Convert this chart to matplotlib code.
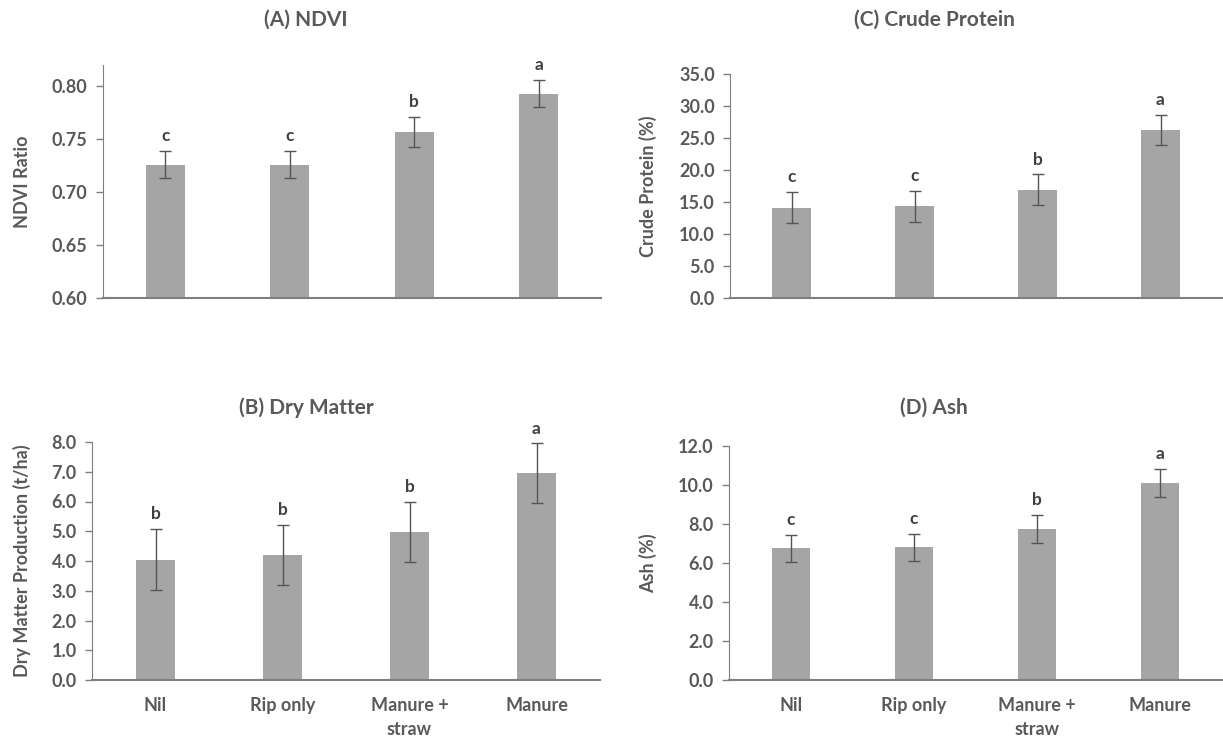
import matplotlib
matplotlib.use("Agg")
import matplotlib.pyplot as plt

categories = ["Nil", "Rip only", "Manure +\nstraw", "Manure"]

ndvi = [0.726, 0.726, 0.757, 0.793]
ndvi_err = [0.013, 0.013, 0.014, 0.013]
ndvi_letters = ["c", "c", "b", "a"]

protein = [14.1, 14.3, 16.9, 26.3]
protein_err = [2.4, 2.4, 2.4, 2.35]
protein_letters = ["c", "c", "b", "a"]

dry_matter = [4.05, 4.2, 4.97, 6.95]
dry_matter_err = [1.02, 1.0, 1.02, 1.0]
dry_matter_letters = ["b", "b", "b", "a"]

ash = [6.75, 6.8, 7.75, 10.1]
ash_err = [0.7, 0.7, 0.7, 0.72]
ash_letters = ["c", "c", "b", "a"]

W, H = 1223, 738
plt.rcParams['font.family'] = ['Lato', 'DejaVu Sans']
plt.rcParams['font.weight'] = 'bold'
TXT = '#595959'
BAR = '#a5a5a5'

fig = plt.figure(figsize=(W / 100, H / 100), dpi=100)


def box(l, r, t, b):
    return [l / W, 1 - b / H, (r - l) / W, (b - t) / H]


def panel(rect, vals, errs, letters, ylim, yticks, fmt, title, title_x, title_y,
          ylabel, ylabel_x, show_x):
    ax = fig.add_axes(box(*rect))
    x = list(range(len(vals)))
    ax.bar(x, vals, width=0.31, color=BAR, zorder=2)
    ax.errorbar(x, vals, yerr=errs, fmt='none', ecolor='#555555', elinewidth=1,
                capsize=4, capthick=1, zorder=3)
    for xi, v, e, lt in zip(x, vals, errs, letters):
        ax.annotate(lt, (xi, v + e), xytext=(0, 5), textcoords='offset points',
                    ha='center', va='bottom', fontsize=12.5, fontweight='bold',
                    color='#404040')
    ax.set_xlim(-0.5, len(vals) - 0.5)
    ax.set_ylim(*ylim)
    ax.set_yticks(yticks)
    ax.set_yticklabels([fmt.format(t) for t in yticks])
    for s in ['top', 'right']:
        ax.spines[s].set_visible(False)
    ax.spines['left'].set_color('#7f7f7f')
    ax.spines['bottom'].set_color('#7f7f7f')
    ax.spines['bottom'].set_linewidth(1.5)
    ax.tick_params(axis='y', colors='#7f7f7f', labelcolor=TXT, labelsize=13,
                   length=5, width=1, pad=6)
    ax.tick_params(axis='x', length=0, labelsize=13, labelcolor=TXT, pad=12)
    ax.set_xticks(x)
    if show_x:
        ax.set_xticklabels(categories, linespacing=1.5)
    else:
        ax.set_xticklabels([])
    fig.text(title_x / W, 1 - title_y / H, title, ha='center', va='center',
             fontsize=15, fontweight='bold', color=TXT)
    fig.text(ylabel_x / W, 1 - (rect[2] + rect[3]) / 2 / H, ylabel, rotation=90,
             ha='center', va='center', fontsize=13, fontweight='bold', color=TXT)
    return ax


panel((103, 601, 65, 298), ndvi, ndvi_err, ndvi_letters, (0.60, 0.82),
      [0.60, 0.65, 0.70, 0.75, 0.80], "{:.2f}", "(A) NDVI", 306, 20,
      "NDVI Ratio", 22, False)
panel((730, 1222, 74, 298), protein, protein_err, protein_letters, (0, 35),
      [0, 5, 10, 15, 20, 25, 30, 35], "{:.1f}", "(C) Crude Protein", 934, 20,
      "Crude Protein (%)", 648, False)
panel((92, 600, 442, 680), dry_matter, dry_matter_err, dry_matter_letters, (0, 8),
      [0, 1, 2, 3, 4, 5, 6, 7, 8], "{:.1f}", "(B) Dry Matter", 306, 408,
      "Dry Matter Production (t/ha)", 22, True)
panel((729, 1222, 446, 680), ash, ash_err, ash_letters, (0, 12),
      [0, 2, 4, 6, 8, 10, 12], "{:.1f}", "(D) Ash", 934, 408,
      "Ash (%)", 648, True)

fig.savefig("out.png", dpi=100)
